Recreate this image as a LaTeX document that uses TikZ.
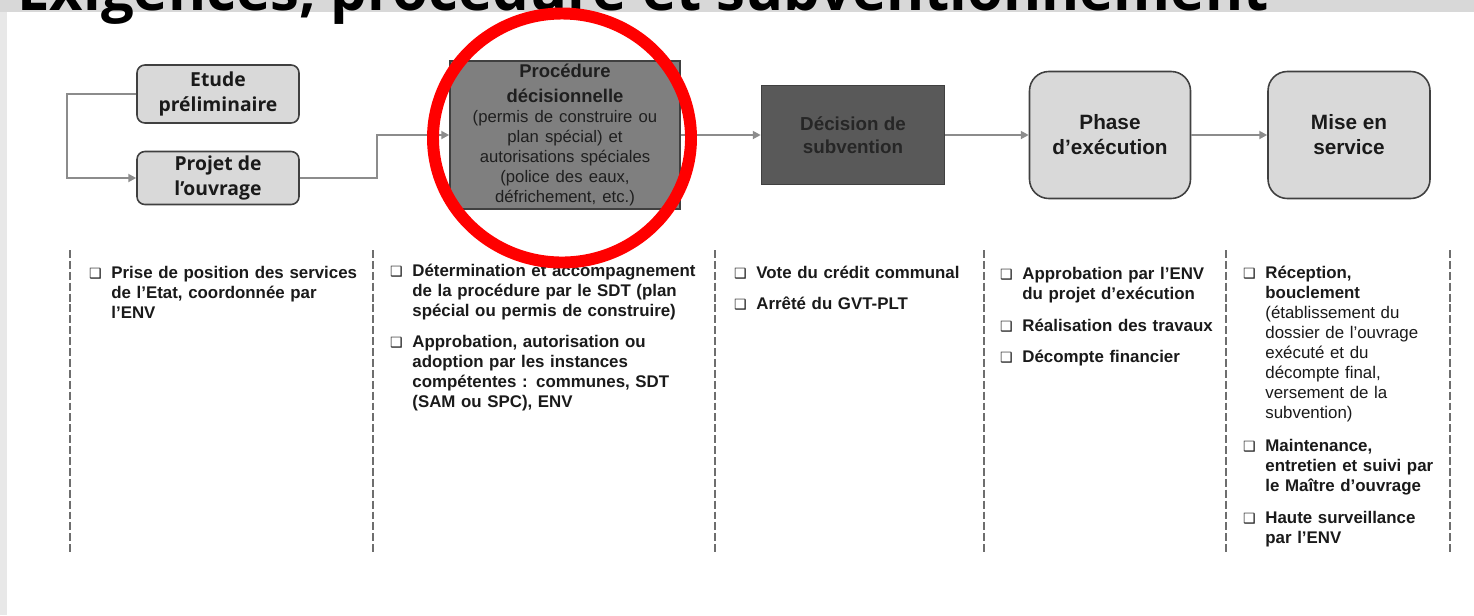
\documentclass[tikz,border=0pt]{standalone}
\usepackage{fontspec}
\setmainfont{Liberation Sans}
\newfontfamily\titlefont{Open Sans}
\newfontfamily\symfont{DejaVu Sans}
\usetikzlibrary{arrows.meta}
\definecolor{boxgray}{HTML}{D9D9D9}
\definecolor{procgray}{HTML}{7F7F7F}
\definecolor{decgray}{HTML}{595959}
\definecolor{edgegray}{HTML}{404040}
\definecolor{linkgray}{HTML}{8C8C8C}
\definecolor{sepgray}{HTML}{6E6E6E}
\definecolor{textgray}{HTML}{1A1A1A}
\definecolor{bandgray}{HTML}{D8D8D8}
\newcommand{\boxmark}{\llap{{\symfont\fontsize{8}{8}\selectfont ❑}\hspace{5.5pt}}}

\begin{document}
\begin{tikzpicture}[x=.2mm, y=-.2mm, >={Triangle[length=4.5pt,width=4.5pt]}, line width=.45pt,
    stage/.style={draw=edgegray, line width=.9pt, fill=boxgray, align=center, inner sep=0pt, text=textgray},
    link/.style={->, draw=linkgray, line width=1.3pt},
    sep/.style={draw=sepgray, line width=1.1pt, dash pattern=on 4.5pt off 1.7pt},
    task/.style={anchor=base west, inner sep=0pt, align=left, text width=#1, text=textgray,
      font=\fontsize{9.6}{11.5}\selectfont\bfseries}]
    \useasboundingbox (0,0) rectangle (1474,615);
    \clip (0,0) rectangle (1474,615);
    \fill[white] (0,0) rectangle (1474,615);
    \fill[bandgray] (0,0) rectangle (1474,12);
    \fill[bandgray!60] (0,12) rectangle (7,615);
    \node[anchor=base west, inner sep=0pt, font=\titlefont\bfseries\fontsize{33}{40}\selectfont] (title) at (17,10) {Exigences, procédure et subventionnement};
    \node[stage, rounded corners=4.5pt, minimum width=32.4mm, minimum height=11.6mm,
      font=\titlefont\bfseries\fontsize{11}{14.2}\selectfont] (etude) at (218,94) {Etude\\préliminaire};
    \node[stage, rounded corners=4.5pt, minimum width=32.4mm, minimum height=10.6mm,
      font=\titlefont\bfseries\fontsize{11}{14.2}\selectfont] (projet) at (218,178) {Projet de\\l’ouvrage};
    \node[stage, fill=procgray, minimum width=46mm, minimum height=29.6mm, text width=44mm, text=black!88,
      font=\fontsize{10.5}{11.4}\selectfont\bfseries] (proc) at (565,135)
      {Procédure\\[2.3pt]décisionnelle\\
       \fontsize{9.5}{11.4}\selectfont\mdseries (permis de construire ou\\plan spécial) et\\autorisations spéciales\\(police des eaux,\\défrichement, etc.)};
    \node[stage, fill=decgray, minimum width=36.6mm, minimum height=19.8mm, text=black!85,
      font=\bfseries\fontsize{10.7}{13}\selectfont] (dec) at (853,135) {Décision de\\subvention};
    \node[stage, rounded corners=11pt, minimum width=32.2mm, minimum height=25.4mm,
      font=\bfseries\fontsize{11.8}{14.2}\selectfont] (phase) at (1110,135) {Phase\\d’exécution};
    \node[stage, rounded corners=11pt, minimum width=32.4mm, minimum height=25.4mm,
      font=\bfseries\fontsize{11.8}{14.2}\selectfont] (mise) at (1349,135) {Mise en\\service};
    \draw[link] (etude.west) -- ++(-69,0) |- (projet.west);
    \draw[link] (projet.east) -- ++(77,0) |- (proc.west);
    \draw[link] (proc.east) -- (dec.west);
    \draw[link] (dec.east) -- (phase.west);
    \draw[link] (phase.east) -- (mise.west);
    \foreach \x in {70,373,715,984,1226,1450}
      \draw[sep] (\x,250) -- (\x,552);
    \node[task=50mm] (prise) at (111,278) {\boxmark Prise de position des services\\de l’Etat, coordonnée par\\l’ENV};
    \node[task=59mm] (determ) at (412,276) {\boxmark Détermination et accompagnement\\de la procédure par le SDT (plan\\spécial ou permis de construire)};
    \node[task=59mm] (approb) at (412,347) {\boxmark Approbation, autorisation ou\\adoption par les instances\\compétentes : communes, SDT\\(SAM ou SPC), ENV};
    \node[task=44mm] (vote) at (756,278) {\boxmark Vote du crédit communal};
    \node[task=44mm] (arrete) at (756,309) {\boxmark Arrêté du GVT-PLT};
    \node[task=40mm] (projexec) at (1022,279) {\boxmark Approbation par l’ENV\\du projet d’exécution};
    \node[task=40mm] (travaux) at (1022,331) {\boxmark Réalisation des travaux};
    \node[task=40mm] (decompte) at (1022,362) {\boxmark Décompte financier};
    \node[task=36mm, font=\fontsize{9.6}{11.4}\selectfont\bfseries] (reception) at (1265,278) {\boxmark Réception,\\bouclement\\\mdseries (établissement du\\dossier de l’ouvrage\\exécuté et du\\décompte final,\\versement de la\\subvention)};
    \node[task=36mm] (maint) at (1265,451) {\boxmark Maintenance,\\entretien et suivi par\\le Maître d’ouvrage};
    \node[task=36mm] (surv) at (1265,523) {\boxmark Haute surveillance\\par l’ENV};
    \draw[red, line width=6.8pt] (562,138) ellipse [x radius=25.8mm, y radius=24.9mm];
\end{tikzpicture}
\end{document}
